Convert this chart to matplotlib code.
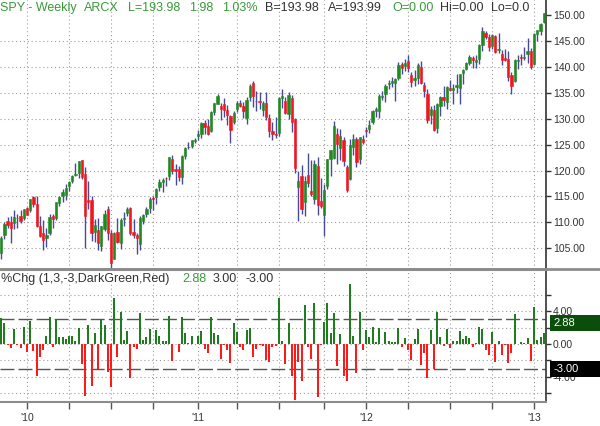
import matplotlib
matplotlib.use("Agg")
import matplotlib.pyplot as plt
import matplotlib.transforms as mtransforms
from matplotlib.patches import Rectangle
import numpy as np
import pandas as pd

plt.rcParams["font.family"] = ["Liberation Sans", "DejaVu Sans"]

W, H = 600, 426

GREEN = "#1f8a1f"
RED = "#f2161e"
WICK = "#4a4a92"
BAR_GREEN = "#1f7d1f"
BAR_RED = "#ff1a1a"
GRID = "#9c9c9c"
TXT = "#333333"
TXT_GREEN = "#3a9a3a"

# weekly SPY bars, first week ending 2009-11-06
first_week = "2009-11-06"
prev_close = 103.6

opens = [
    # 2009
    104.0, 107.5, 110.2, 110.0, 109.8, 110.8, 111.3, 110.8,
    # 2010
    112.8, 112.4, 114.9, 113.6, 109.3, 108.0, 106.9, 108.0, 111.3, 110.9,
    113.7, 115.0, 115.3, 117.0, 117.9, 119.1, 119.5, 122.0, 119.4, 114.4,
    114.3, 108.1, 108.6, 105.5, 108.7, 112.5, 108.0, 103.0, 108.1, 106.0,
    110.7, 111.8, 112.7, 108.2, 107.6, 105.8, 110.3, 111.7, 112.7, 114.7,
    114.9, 116.9, 117.7, 118.6, 119.0, 122.3, 120.2, 120.3, 118.7, 122.8,
    124.5, 124.7, 125.7,
    # 2011
    126.7, 127.0, 129.1, 128.5, 127.6, 131.3, 132.9, 132.5, 132.9, 131.6,
    130.5, 129.4, 131.8, 133.1, 132.4, 130.2, 134.1, 136.9, 133.5, 133.5,
    131.7, 133.0, 130.2, 127.6, 127.1, 127.2, 133.9, 133.5, 131.0, 134.0,
    129.9, 116.9, 119.0, 113.9, 119.1, 116.0, 114.6, 120.8, 114.1, 111.5,
    117.1, 122.3, 122.4, 127.0, 124.4, 125.9, 120.6, 118.4, 124.6, 126.0,
    122.3, 126.0,
    # 2012
    127.8, 128.0, 129.4, 131.5, 131.5, 134.2, 134.7, 136.7, 136.9, 136.9,
    137.9, 140.6, 140.2, 141.2, 138.5, 137.5, 137.8, 140.0, 136.5, 134.8,
    130.7, 131.7, 128.2, 132.5, 134.2, 133.3, 136.0, 135.6, 136.2, 135.9,
    138.8, 139.6, 140.8, 141.8, 140.9, 141.6, 144.3, 146.6, 145.8, 144.1,
    145.9, 143.2, 142.5, 141.8, 141.5, 138.4, 137.3, 141.1, 141.9, 141.7,
    142.5, 143.0,
    # 2013
    140.6, 146.3, 146.9, 148.6,
]

highs = [
    107.3, 110.0, 111.0, 111.2, 112.4, 111.6, 112.3, 112.5,
    113.0, 114.6, 115.1, 115.1, 111.2, 110.4, 108.9, 111.6, 111.6, 114.0,
    115.1, 116.5, 117.4, 118.0, 119.1, 121.4, 121.9, 122.1, 120.7, 117.9,
    115.1, 110.6, 110.8, 109.3, 112.4, 113.2, 108.5, 108.1, 110.9, 110.8,
    112.0, 113.0, 113.0, 110.6, 107.9, 111.3, 111.6, 113.0, 114.8, 115.1,
    116.6, 118.3, 118.5, 118.8, 122.7, 122.9, 121.2, 120.9, 123.0, 124.5,
    125.5, 125.9, 126.2,
    127.8, 129.3, 129.7, 130.0, 131.4, 133.1, 134.7, 133.0, 133.9, 132.7,
    130.8, 131.5, 133.5, 133.6, 133.3, 134.1, 136.6, 137.2, 135.4, 135.1,
    133.5, 135.2, 130.9, 129.4, 130.3, 134.1, 135.7, 134.2, 135.1, 134.6,
    130.1, 119.9, 121.0, 119.0, 123.3, 122.1, 122.0, 122.6, 118.6, 117.4,
    122.3, 124.0, 129.5, 128.3, 128.1, 126.5, 121.1, 126.1, 127.1, 126.5,
    126.5, 126.8,
    128.4, 129.7, 131.6, 132.3, 134.7, 135.3, 136.7, 137.4, 138.0, 137.8,
    140.9, 141.0, 141.6, 142.2, 139.0, 139.3, 140.8, 141.2, 137.0, 135.7,
    132.5, 132.6, 133.1, 134.3, 136.4, 136.3, 137.5, 136.6, 138.6, 138.7,
    139.5, 141.0, 142.2, 142.0, 142.2, 144.4, 147.6, 147.0, 146.3, 146.4,
    146.1, 146.5, 143.2, 143.5, 143.1, 139.1, 141.5, 142.2, 142.5, 143.8,
    145.6, 143.7,
    146.6, 147.2, 148.5, 150.4,
]

lows = [
    102.9, 106.8, 108.9, 106.0, 108.8, 108.9, 109.9, 110.5,
    111.4, 112.0, 113.0, 109.1, 107.2, 104.6, 105.3, 107.5, 109.0, 110.5,
    113.1, 114.0, 114.4, 116.0, 117.5, 118.9, 118.6, 118.3, 105.0, 112.5,
    106.4, 106.3, 104.7, 104.4, 108.4, 106.5, 101.1, 102.9, 106.0, 104.8,
    109.3, 111.2, 107.6, 106.9, 103.9, 104.6, 109.6, 111.1, 111.9, 112.4,
    113.6, 116.1, 115.9, 117.0, 118.2, 119.3, 117.3, 117.9, 117.4, 122.2,
    124.1, 124.3, 125.3,
    125.8, 126.3, 127.1, 126.8, 127.5, 130.8, 132.8, 129.7, 130.4, 128.8,
    125.3, 128.9, 131.2, 132.2, 130.2, 129.0, 133.5, 132.3, 131.4, 131.9,
    130.5, 129.8, 126.5, 125.9, 126.2, 126.6, 132.0, 130.9, 129.9, 127.5,
    119.5, 110.3, 111.6, 111.2, 116.9, 115.0, 113.6, 111.5, 112.7, 107.4,
    116.4, 118.9, 122.2, 121.3, 122.1, 120.9, 115.8, 118.2, 122.9, 120.6,
    121.2, 125.1,
    126.4, 127.3, 129.0, 130.4, 130.2, 133.6, 133.3, 135.8, 136.2, 133.4,
    137.4, 138.7, 139.2, 139.0, 136.2, 136.3, 136.6, 136.7, 134.2, 129.2,
    128.9, 127.7, 127.3, 130.5, 132.5, 131.8, 135.4, 132.8, 134.9, 132.8,
    136.7, 139.3, 140.4, 139.8, 139.8, 140.5, 143.1, 145.4, 143.0, 143.5,
    142.7, 142.7, 140.3, 141.1, 137.3, 134.7, 137.1, 139.5, 140.4, 141.4,
    140.8, 139.6,
    140.3, 145.0, 146.2, 148.5,
]

closes = [
    106.9, 109.6, 109.5, 109.0, 111.0, 110.8, 110.2, 112.5,
    111.4, 114.6, 113.6, 109.2, 107.4, 106.6, 107.6, 111.1, 110.7, 113.9,
    114.9, 115.9, 116.6, 117.8, 119.0, 119.4, 121.8, 118.8, 111.3, 113.9,
    108.0, 109.4, 106.0, 109.2, 111.7, 107.9, 102.2, 107.9, 106.2, 110.4,
    110.9, 112.6, 107.9, 107.5, 106.9, 110.9, 111.5, 112.5, 114.6, 114.6,
    116.5, 117.7, 118.1, 118.5, 122.6, 120.0, 120.0, 118.8, 122.8, 124.4,
    124.6, 125.8, 125.8,
    127.1, 129.2, 128.4, 127.0, 131.2, 133.0, 134.4, 131.9, 131.7, 130.8,
    127.8, 131.1, 133.0, 132.5, 131.5, 133.7, 136.4, 134.3, 133.4, 133.3,
    133.0, 130.4, 127.6, 127.1, 126.8, 133.9, 134.4, 131.1, 134.5, 129.3,
    120.5, 117.9, 112.6, 118.0, 117.5, 115.4, 121.2, 113.3, 113.2, 116.3,
    122.2, 123.9, 128.6, 125.1, 126.7, 121.8, 116.3, 124.9, 126.1, 121.6,
    126.4, 125.5,
    127.7, 128.8, 131.5, 131.8, 134.4, 134.4, 136.4, 136.9, 137.3, 137.6,
    140.3, 139.7, 140.8, 139.8, 137.1, 137.9, 140.4, 136.8, 135.3, 129.7,
    131.9, 127.9, 132.9, 134.1, 133.7, 136.1, 135.5, 136.0, 136.5, 138.6,
    139.4, 140.8, 141.9, 141.3, 141.4, 144.3, 146.9, 145.8, 143.9, 146.1,
    142.8, 143.4, 141.4, 141.3, 138.0, 136.4, 141.4, 141.4, 141.8, 141.9,
    143.0, 140.0,
    146.4, 147.1, 148.3, 150.3,
]

price_ticks = [105, 110, 115, 120, 125, 130, 135, 140, 145, 150]
chg_ticks = [-6, -4, -2, 0, 2, 4, 6]
chg_labelled = [-4, 0, 4]
chg_upper, chg_lower = 3.0, -3.0
chg_value = 2.88

header = [
    ("SPY - Weekly", 0, TXT_GREEN), ("ARCX", 84, TXT_GREEN),
    ("L=193.98", 128, TXT_GREEN), ("1.98", 189, TXT_GREEN),
    ("1.03%", 222, TXT_GREEN), ("B=193.98", 265, TXT),
    ("A=193.99", 328, TXT), ("O=0.00", 392, TXT_GREEN),
    ("Hi=0.00", 440, TXT), ("Lo=0.0", 491, TXT),
]
sub_header = [
    ("%Chg (1,3,-3,DarkGreen,Red)", 1, TXT), ("2.88", 182, TXT_GREEN),
    ("3.00", 213, TXT), ("-3.00", 246, TXT),
]

o = np.array(opens)
h = np.array(highs)
l = np.array(lows)
c = np.array(closes)
x = np.arange(len(c))
dates = pd.date_range(first_week, periods=len(c), freq="W-FRI")
pct = (c / np.concatenate([[prev_close], c[:-1]]) - 1) * 100

quarter_idx = [i for i in range(1, len(dates)) if dates[i].quarter != dates[i - 1].quarter]
quarter_lbl = ["'%02d" % (dates[i].year % 100) if dates[i].year != dates[i - 1].year else ""
               for i in quarter_idx]

fig = plt.figure(figsize=(W / 100, H / 100), dpi=100)
ax_p = fig.add_axes([0, 1 - 269 / H, 546 / W, 269 / H])
ax_c = fig.add_axes([0, 1 - 402 / H, 546 / W, (402 - 270) / H])

xlim = (-0.36, 168.7)

# ---- price panel
up = c >= o
ax_p.vlines(x, l, h, color=WICK, lw=1.0, zorder=2)
ax_p.bar(x, c - o, bottom=o, width=0.7, color=np.where(up, GREEN, RED),
         edgecolor=np.where(up, GREEN, RED), linewidth=0.4, zorder=3)
ax_p.set_xlim(*xlim)
ax_p.set_ylim(101.0, 152.9)
ax_p.set_xticks(quarter_idx)
ax_p.set_yticks(price_ticks)
ax_p.set_yticklabels(["%.2f" % v for v in price_ticks])
ax_p.yaxis.tick_right()
ax_p.tick_params(axis="x", length=0, labelbottom=False)
ax_p.tick_params(axis="y", direction="out", length=3.5, width=1, color=TXT,
                 labelsize=7.5, labelcolor=TXT, pad=1.5)
ax_p.grid(True, color=GRID, lw=0.8, ls=(0, (1, 2.5)))
ax_p.set_axisbelow(True)
for t in ax_p.yaxis.get_major_ticks():
    if t.get_loc() == 150:
        t.gridline.set_visible(False)

# ---- %Chg panel
ax_c.bar(x, pct, width=0.62, color=np.where(pct >= 0, BAR_GREEN, BAR_RED), zorder=3)
for lvl in (chg_upper, chg_lower):
    ax_c.axhline(lvl, color="#555555", lw=1.0, ls=(0, (10, 3)), zorder=2)
ax_c.set_xlim(*xlim)
ax_c.set_ylim(-7.1, 9.06)
ax_c.set_xticks(quarter_idx)
ax_c.set_xticklabels(quarter_lbl)
ax_c.set_yticks(chg_ticks)
ax_c.set_yticklabels(["%.2f" % v if v in chg_labelled else "" for v in chg_ticks])
ax_c.yaxis.tick_right()
ax_c.tick_params(axis="x", direction="out", length=5, width=1, color="#555555",
                 labelsize=7.5, labelcolor=TXT, pad=3)
ax_c.tick_params(axis="y", direction="out", length=3.5, width=1, color=TXT,
                 labelsize=7.5, labelcolor=TXT, pad=1.5)
ax_c.grid(True, color=GRID, lw=0.8, ls=(0, (1, 2.5)))
ax_c.set_axisbelow(True)

for ax in (ax_p, ax_c):
    ax.spines["left"].set_visible(False)
    ax.spines["right"].set_color(TXT)
    ax.spines["right"].set_linewidth(1.2)
ax_p.spines["top"].set_visible(False)
ax_p.spines["bottom"].set_color("#8c8c8c")
ax_p.spines["bottom"].set_linewidth(2)
ax_c.spines["top"].set_color("#8c8c8c")
ax_c.spines["top"].set_linewidth(1.5)
ax_c.spines["bottom"].set_color("#8c8c8c")
ax_c.spines["bottom"].set_linewidth(1.5)

# separator line across the full width
fig.add_artist(plt.Line2D([0, 1], [1 - 269 / H] * 2, color="#8c8c8c", lw=2,
                          transform=fig.transFigure))

# value boxes on the right of the %Chg panel (box drawn slightly below the level)
px_per_unit = ((402 - 270) / (9.06 + 7.1))
half = 8 / px_per_unit
blend = mtransforms.blended_transform_factory(fig.transFigure, ax_c.transData)
for val, face, shift in ((chg_value, "#0b4d0b", 3), (chg_lower, "#000000", 0)):
    mid = val - shift / px_per_unit
    fig.add_artist(Rectangle((550 / W, mid - half), 1 - 550 / W, 2 * half,
                             transform=blend, facecolor=face, edgecolor="none",
                             zorder=5, clip_on=False))
    fig.text(553 / W, mid, "%.2f" % val, transform=blend, color="white", fontsize=8,
             va="center", ha="left", zorder=6)

# header texts
for s, xp, col in header:
    fig.text(xp / W, 1 - 11 / H, s, color=col, fontsize=9, va="baseline", ha="left")
for s, xp, col in sub_header:
    fig.text(xp / W, 1 - 282 / H, s, color=col, fontsize=9, va="baseline", ha="left")

fig.savefig("out.png", dpi=100, facecolor="white")
